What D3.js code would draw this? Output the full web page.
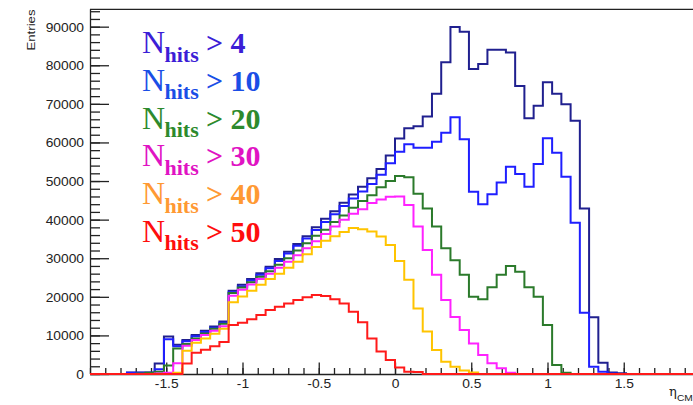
<!DOCTYPE html>
<html>
<head>
<meta charset="utf-8">
<script src="https://cdn.jsdelivr.net/npm/d3@7"></script>
<style>
  html, body { margin: 0; padding: 0; background: #fff; overflow: hidden; }
  svg { display: block; }
</style>
</head>
<body>
<svg id="chart" width="693" height="405"></svg>
<script>
// eta_CM histograms, 66 bins over [-2, 2], one series per N_hits cut
const nBins = 66;
const etaMin = -2;
const etaMax = 2;

const hitsCuts = ["4", "10", "20", "30", "40", "50"];

const entriesGt4 = [
  0, 0, 0, 0, 400, 400, 400, 2700, 9700, 7600,
  8800, 10100, 11200, 12300, 13600, 21600, 23100, 24600, 26100, 27800,
  29800, 31700, 33700, 35700, 38000, 40200, 42200, 44400, 46500, 48500,
  50700, 53100, 56600, 61000, 63700, 64200, 66700, 72600, 80800, 89900,
  88700, 79000, 80300, 84000, 84000, 83300, 74600, 66300, 69500, 75600,
  72600, 69900, 65600, 42900, 14700, 2900, 400, 200, 0, 0,
  0, 0, 0, 0, 0, 0
];
const entriesGt10 = [
  0, 0, 0, 0, 300, 300, 300, 1200, 9000, 7200,
  8500, 9800, 10900, 12000, 13300, 21200, 22700, 24200, 25700, 27400,
  29300, 31200, 33200, 35100, 37300, 39400, 41400, 43500, 45500, 47300,
  49200, 51600, 54600, 57600, 59500, 58600, 58600, 60200, 62500, 66500,
  60800, 47200, 44000, 46600, 49600, 53700, 51800, 48500, 54400, 61100,
  57300, 51100, 39200, 15900, 1900, 600, 100, 0, 0, 0,
  0, 0, 0, 0, 0, 0
];
const entriesGt20 = [
  0, 0, 0, 0, 0, 100, 300, 600, 2200, 6600,
  7800, 9200, 10500, 11700, 13000, 21000, 22400, 23800, 25200, 26600,
  28300, 30000, 32000, 33900, 35800, 37400, 39400, 41100, 43100, 44800,
  46300, 48400, 50000, 51300, 51000, 46700, 42900, 38200, 32600, 29500,
  25700, 20000, 19400, 22500, 25700, 28000, 26500, 22500, 20000, 12700,
  2300, 300, 0, 0, 0, 0, 0, 0, 0, 0,
  0, 0, 0, 0, 0, 0
];
const entriesGt30 = [
  0, 0, 0, 0, 0, 0, 0, 100, 300, 2800,
  7300, 8800, 10100, 11200, 12400, 20300, 21800, 23200, 24600, 26000,
  27500, 29100, 30800, 32600, 34400, 36300, 38200, 40000, 41500, 42700,
  44300, 45200, 45900, 46000, 43800, 38200, 32100, 25700, 19200, 14800,
  11400, 7900, 4900, 2800, 1500, 300, 0, 0, 0, 0,
  0, 0, 0, 0, 0, 0, 0, 0, 0, 0,
  0, 0, 0, 0, 0, 0
];
const entriesGt40 = [
  0, 0, 0, 0, 0, 0, 0, 0, 0, 300,
  6000, 8100, 9200, 10400, 11700, 18600, 20100, 21600, 23100, 24600,
  26000, 27500, 29100, 31000, 32900, 34500, 35700, 36800, 37800, 37500,
  36900, 35600, 33400, 29300, 24400, 17000, 11000, 6200, 3200, 1900,
  900, 400, 0, 0, 0, 0, 0, 0, 0, 0,
  0, 0, 0, 0, 0, 0, 0, 0, 0, 0,
  0, 0, 0, 0, 0, 0
];
const entriesGt50 = [
  0, 0, 0, 0, 0, 0, 0, 0, 0, 0,
  2700, 5500, 6300, 7200, 8300, 12700, 13300, 14200, 15300, 16600,
  17400, 18300, 19200, 19900, 20500, 20200, 19400, 18300, 16100, 13400,
  9200, 5800, 3600, 1700, 600, 500, 0, 0, 0, 0,
  0, 0, 0, 0, 0, 0, 0, 0, 0, 0,
  0, 0, 0, 0, 0, 0, 0, 0, 0, 0,
  0, 0, 0, 0, 0, 0
];

const yTickValues = [0, 10000, 20000, 30000, 40000, 50000, 60000, 70000, 80000, 90000];
const xTickValues = [-1.5, -1, -0.5, 0, 0.5, 1, 1.5];
const yMax = 94500;

const seriesList = [
  { values: entriesGt4,  line: "#20208f", text: "#3c1ed6" },
  { values: entriesGt10, line: "#1f1fff", text: "#1a4ee6" },
  { values: entriesGt20, line: "#2b7a2b", text: "#2d8a2d" },
  { values: entriesGt30, line: "#ff22ff", text: "#e013c3" },
  { values: entriesGt40, line: "#ffc400", text: "#ff9933" },
  { values: entriesGt50, line: "#ff1a1a", text: "#ff0d0d" }
];

const svg = d3.select("#chart");
const frameLeft = 90, frameRight = 700, frameTop = 9.3, frameBottom = 374;

const x = d3.scaleLinear().domain([etaMin, etaMax]).range([frameLeft, frameRight]);
const y = d3.scaleLinear().domain([0, yMax]).range([frameBottom, frameTop]);

const axisColor = "#222";
const labelStretch = 1.15;

// frame top edge
svg.append("line")
  .attr("x1", frameLeft).attr("x2", frameRight)
  .attr("y1", frameTop).attr("y2", frameTop)
  .attr("stroke", axisColor).attr("stroke-width", 1.3);

// y axis: minor then major ticks pointing into the frame
const yMinor = svg.append("g").attr("transform", `translate(${frameLeft},0)`)
  .call(d3.axisLeft(y).tickValues(d3.range(0, yMax, 2000)).tickSize(-10).tickFormat(""));
yMinor.select(".domain").remove();

const yAxis = svg.append("g").attr("transform", `translate(${frameLeft},0)`)
  .call(d3.axisLeft(y).tickValues(yTickValues).tickSizeInner(-19).tickSizeOuter(0)
    .tickPadding(6).tickFormat(d => String(d)));
yAxis.select(".domain").attr("stroke", axisColor).attr("stroke-width", 1.3)
  .attr("d", `M0.5,${frameTop}V${frameBottom}`);

// x axis
const xMinor = svg.append("g").attr("transform", `translate(0,${frameBottom})`)
  .call(d3.axisBottom(x).tickValues(d3.range(-20, 21).map(i => i / 10)).tickSize(-6).tickFormat(""));
xMinor.select(".domain").remove();

const xAxis = svg.append("g").attr("transform", `translate(0,${frameBottom})`)
  .call(d3.axisBottom(x).tickValues(xTickValues).tickSizeInner(-11.5).tickSizeOuter(0)
    .tickFormat(d => String(d)));
xAxis.select(".domain").attr("stroke", axisColor).attr("stroke-width", 1.3);

svg.selectAll(".tick line").attr("stroke", axisColor).attr("stroke-width", 1.3);

yAxis.selectAll(".tick text")
  .attr("font-family", "'Liberation Sans', Arial, sans-serif")
  .attr("font-size", 12).attr("fill", axisColor)
  .attr("x", -6 / labelStretch).attr("dy", null).attr("y", 4.5)
  .attr("transform", `scale(${labelStretch},1)`);

xAxis.selectAll(".tick text")
  .attr("font-family", "'Liberation Sans', Arial, sans-serif")
  .attr("font-size", 12).attr("fill", axisColor)
  .attr("dy", null).attr("y", 14.3).attr("x", 0)
  .attr("transform", `scale(${labelStretch},1)`);

// axis titles
svg.append("text")
  .attr("transform", `translate(34.5,9.5) rotate(-90) scale(1.2,1)`)
  .attr("text-anchor", "end")
  .attr("font-family", "'Liberation Sans', Arial, sans-serif")
  .attr("font-size", 11).attr("fill", axisColor)
  .text("Entries");

svg.append("text")
  .attr("x", 669).attr("y", 395.5)
  .attr("font-family", "'DejaVu Serif', 'Liberation Serif', serif")
  .attr("font-size", 13).attr("fill", axisColor)
  .text("η");
svg.append("text")
  .attr("transform", "translate(677,400.5) scale(1.2,1)")
  .attr("font-family", "'Liberation Sans', Arial, sans-serif")
  .attr("font-size", 8.5).attr("fill", axisColor)
  .text("CM");

// step outlines
const edges = d3.range(nBins + 1).map(i => etaMin + i * (etaMax - etaMin) / nBins);
const stepLine = d3.line()
  .x(d => x(d[0]))
  .y(d => y(d[1]))
  .curve(d3.curveStepAfter);

seriesList.forEach(s => {
  const pts = s.values.map((v, k) => [edges[k], v]);
  pts.push([edges[nBins], s.values[nBins - 1]]);
  svg.append("path")
    .datum(pts)
    .attr("d", stepLine)
    .attr("fill", "none")
    .attr("stroke", s.line)
    .attr("stroke-width", 2)
    .attr("stroke-linejoin", "miter");
});

// legend: N_hits > cut
const legend = svg.append("g");
seriesList.forEach((s, i) => {
  const base = 53.3 + i * 37.7;
  legend.append("text")
    .attr("x", 142).attr("y", base)
    .attr("font-family", "'Liberation Serif', 'Times New Roman', serif")
    .attr("font-size", 32).attr("fill", s.text)
    .text("N");
  legend.append("text")
    .attr("x", 164.5).attr("y", base + 8.4)
    .attr("font-family", "'Liberation Serif', 'Times New Roman', serif")
    .attr("font-weight", "bold")
    .attr("font-size", 22).attr("fill", s.text)
    .text("hits");
  legend.append("text")
    .attr("x", 206).attr("y", base)
    .attr("font-family", "'Liberation Serif', 'Times New Roman', serif")
    .attr("font-weight", "bold")
    .attr("font-size", 30).attr("fill", s.text)
    .text("> " + hitsCuts[i]);
});
</script>
</body>
</html>
